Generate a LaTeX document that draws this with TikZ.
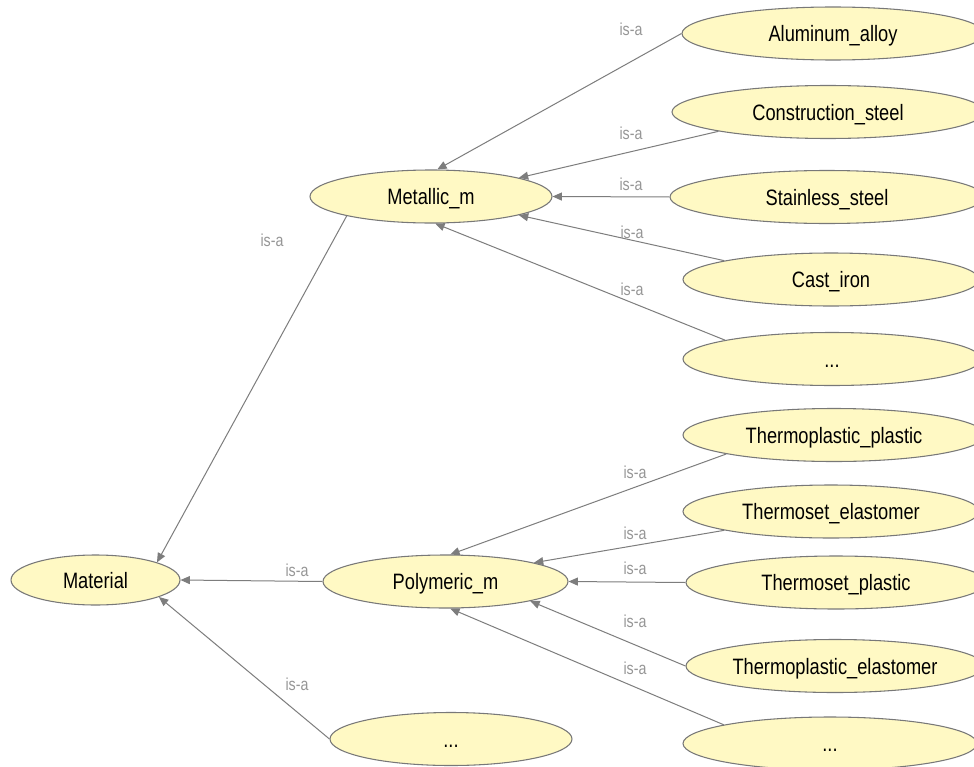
\documentclass[tikz,border=0pt]{standalone}
\usepackage{fontspec}
\setmainfont[FakeStretch=0.82]{Liberation Sans}
\usetikzlibrary{shapes.geometric,arrows.meta}

\definecolor{nodefill}{RGB}{255,249,196}
\definecolor{nodeline}{RGB}{120,120,120}
\definecolor{edgeline}{RGB}{125,125,125}
\definecolor{labelgray}{RGB}{150,150,150}

\begin{document}
\begin{tikzpicture}[x=0.75pt,y=-0.75pt,
  cls/.style={ellipse, draw=nodeline, fill=nodefill, line width=0.8pt,
    inner sep=0pt, minimum height=53*0.75pt,
    text height=12pt, text depth=0pt,
    font=\fontsize{16.7}{18}\selectfont, text=black},
  wd/.style={minimum width=#1*0.75pt},
  isa/.style={draw=edgeline, line width=0.75pt,
    -{Triangle[length=7pt,width=6pt,fill=edgeline]}},
  lbl/.style={text=labelgray, font=\fontsize{13}{14}\selectfont, inner sep=0pt}]

\useasboundingbox (0,0) rectangle (974,767);
\fill[white] (0,0) rectangle (974,767);
\clip (0,0) rectangle (974,767);

% class hierarchy
\node[cls, wd=169, minimum height=50*0.75pt] (mat) at (95.5,580) {Material};
\node[cls, wd=242] (met) at (431,196.5) {Metallic\_m};
\node[cls, wd=245] (pol) at (445.5,581.5) {Polymeric\_m};
\node[cls, wd=242] (oth) at (451,739) {...};

% metallic subclasses
\node[cls, wd=302] (al) at (833,33.5) {Aluminum\_alloy};
\node[cls, wd=312] (cs) at (828,112) {Construction\_steel};
\node[cls, wd=314] (ss) at (827,197) {Stainless\_steel};
\node[cls, wd=296] (ci) at (831,279.5) {Cast\_iron};
\node[cls, wd=298] (mo) at (832,359) {...};

% polymeric subclasses
\node[cls, wd=302] (tpp) at (834,435) {Thermoplastic\_plastic};
\node[cls, wd=296] (tse) at (831,511.5) {Thermoset\_elastomer};
\node[cls, wd=300] (tsp) at (836,582.5) {Thermoset\_plastic};
\node[cls, wd=298] (tpe) at (835,666) {Thermoplastic\_elastomer};
\node[cls, wd=294] (po) at (830,743.5) {...};

% is-a relations
\draw[isa] (al.180) -- (met.77);
\draw[isa] (cs.190) -- (met.12);
\draw[isa] (ss.180) -- (met.0);
\draw[isa] (ci.170) -- (met.-12);
\draw[isa] (mo.170) -- (met.-81);

\draw[isa] (tpp.190) -- (pol.80);
\draw[isa] (tse.190) -- (pol.12);
\draw[isa] (tsp.180) -- (pol.0);
\draw[isa] (tpe.180) -- (pol.-13);
\draw[isa] (po.170) -- (pol.-80);

\draw[isa] (met.193) -- (mat.16.6);
\draw[isa] (pol.180) -- (mat.0);
\draw[isa] (oth.180) -- (mat.-15.6);

% relation labels
\node[lbl] (l1) at (631,29) {is-a};
\node[lbl] (l2) at (631,133) {is-a};
\node[lbl] (l3) at (631,184) {is-a};
\node[lbl] (l4) at (632,232) {is-a};
\node[lbl] (l5) at (632,289) {is-a};
\node[lbl] (l6) at (635,472) {is-a};
\node[lbl] (l7) at (635,533) {is-a};
\node[lbl] (l8) at (635,568) {is-a};
\node[lbl] (l9) at (635,621) {is-a};
\node[lbl] (l10) at (635,668) {is-a};
\node[lbl] (l11) at (272,240) {is-a};
\node[lbl] (l12) at (297,570) {is-a};
\node[lbl] (l13) at (297,684) {is-a};
\end{tikzpicture}
\end{document}
